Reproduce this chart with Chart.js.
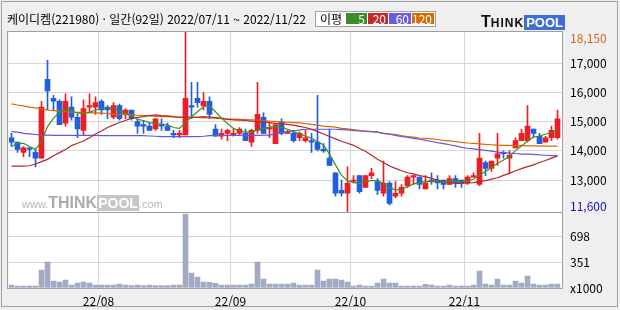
<!DOCTYPE html>
<html lang="ko">
<head>
<meta charset="utf-8">
<title>케이디켐(221980) 일간 차트</title>
<script src="https://cdn.jsdelivr.net/npm/chart.js@4.4.1/dist/chart.umd.min.js"></script>
<style>
  html, body { margin: 0; padding: 0; background: #efefef; }
  #wrap { position: relative; width: 620px; height: 310px; overflow: hidden;
          font-family: "Noto Sans CJK KR", "Noto Sans", sans-serif; }
  #chart { position: absolute; left: 0; top: 0; }
  #frame { position: absolute; left: 1px; top: 1px; width: 615px; height: 304px;
           border: 1px solid #a0a0a0; pointer-events: none; }
  #title { position: absolute; left: 7px; top: 11px; font-size: 12px; line-height: 16px;
           color: #000; white-space: nowrap; }
  #legend { position: absolute; left: 315px; top: 11px; width: 119px; height: 14px;
            border: 1px solid #a0a0a0; background: #fff; font-size: 12px; }
  #legend .lbl { position: absolute; left: 4px; top: -1px; line-height: 16px; }
  #legend .ma { position: absolute; top: 1px; height: 11px; line-height: 11px; color: #fff;
                text-align: right; padding-right: 2px; box-sizing: border-box; font-size: 12px; }
  #logo { position: absolute; left: 481px; top: 14px; height: 15px; white-space: nowrap;
          font-family: "Liberation Sans", Arial, sans-serif; font-weight: bold; line-height: 15px; }
  #logo .t { font-size: 16px; color: #111; }
  #logo .h { font-size: 12px; color: #111; letter-spacing: 1px; }
  #logo .p { font-size: 13px; color: #fff; background: #3d6fd6; padding: 0 2px; }
  #mark { position: absolute; left: 22px; top: 195px; white-space: nowrap; line-height: 16px;
          font-family: "Liberation Sans", Arial, sans-serif; color: #b8b8b8; }
  #mark .s { font-size: 11px; }
  #mark .b { font-size: 16px; font-weight: bold; color: #acacac; }
  #mark .p { font-size: 14px; font-weight: bold; color: #fff; background: #c6c6c6; padding: 0 1px; }
</style>
</head>
<body>
<div id="wrap">
  <canvas id="chart" width="620" height="310"></canvas>
  <div id="frame"></div>
  <div id="title"></div>
  <div id="legend">
    <span class="lbl">이평</span>
    <span class="ma" style="left:30px;width:21px;background:#3c8c28">5</span>
    <span class="ma" style="left:52px;width:20px;background:#c8282a">20</span>
    <span class="ma" style="left:73px;width:22px;background:#6a5cdc">60</span>
    <span class="ma" style="left:96px;width:22px;background:#d86a00">120</span>
  </div>
  <div id="logo"><span class="t">T</span><span class="h">HINK</span><span class="p">POOL</span></div>
  <div id="mark"><span class="s">www.</span><span class="b">THINK</span><span class="p">POOL</span><span class="s">.com</span></div>
</div>

<script>
// 케이디켐 daily candles, 2022/07/11 ~ 2022/11/22
const stockName = '케이디켐';
const stockCode = '221980';

const dates = [
  '2022/07/11', '2022/07/12', '2022/07/13', '2022/07/14', '2022/07/15', '2022/07/18', '2022/07/19', '2022/07/20',
  '2022/07/21', '2022/07/22', '2022/07/25', '2022/07/26', '2022/07/27', '2022/07/28', '2022/07/29',
  '2022/08/01', '2022/08/02', '2022/08/03', '2022/08/04', '2022/08/05', '2022/08/08', '2022/08/09', '2022/08/10',
  '2022/08/11', '2022/08/12', '2022/08/16', '2022/08/17', '2022/08/18', '2022/08/19', '2022/08/22', '2022/08/23',
  '2022/08/24', '2022/08/25', '2022/08/26', '2022/08/29', '2022/08/30', '2022/08/31',
  '2022/09/01', '2022/09/02', '2022/09/05', '2022/09/06', '2022/09/07', '2022/09/08', '2022/09/13', '2022/09/14',
  '2022/09/15', '2022/09/16', '2022/09/19', '2022/09/20', '2022/09/21', '2022/09/22', '2022/09/23', '2022/09/26',
  '2022/09/27', '2022/09/28', '2022/09/29', '2022/09/30',
  '2022/10/04', '2022/10/05', '2022/10/06', '2022/10/07', '2022/10/11', '2022/10/12', '2022/10/13', '2022/10/14',
  '2022/10/17', '2022/10/18', '2022/10/19', '2022/10/20', '2022/10/21', '2022/10/24', '2022/10/25', '2022/10/26',
  '2022/10/27', '2022/10/28', '2022/10/31',
  '2022/11/01', '2022/11/02', '2022/11/03', '2022/11/04', '2022/11/07', '2022/11/08', '2022/11/09', '2022/11/10',
  '2022/11/11', '2022/11/14', '2022/11/15', '2022/11/16', '2022/11/17', '2022/11/18', '2022/11/21', '2022/11/22'
];

const openP = [
  14450, 14300, 13950, 14100, 13950, 13750, 16450, 15800, 15700, 14950,
  15500, 15150, 14700, 15500, 15500, 15700, 15500, 15150, 15550, 15250,
  15400, 15000, 14900, 14850, 14750, 14900, 14850, 14600, 14550, 14550,
  15550, 15800, 15550, 15700, 14750, 14500, 14600, 14550, 14600, 14600,
  14300, 14700, 15150, 14750, 14250, 15000, 14600, 14600, 14450, 14350,
  14350, 14300, 14050, 13750, 13250, 12650, 12550, 12950, 13150, 12750,
  13150, 12950, 12550, 12900, 12450, 12550, 12800, 13100, 13100, 12700,
  13000, 13000, 13000, 12850, 13050, 13000, 12900, 13100, 12850, 13600,
  13400, 13750, 13950, 13750, 14100, 14350, 14350, 14750, 14500, 14300,
  14450, 14450
];
const highP = [
  14600, 14300, 14150, 14100, 14050, 15700, 17100, 15900, 15750, 15950,
  15850, 15250, 15750, 15950, 15850, 15750, 15550, 15650, 15600, 15450,
  15400, 15100, 15050, 14950, 15100, 15100, 14950, 14700, 14700, 18150,
  16350, 16350, 16000, 15850, 14900, 14750, 14750, 14750, 14800, 14750,
  14750, 16350, 15300, 14950, 14900, 15100, 14700, 14700, 14650, 14700,
  14600, 15900, 14250, 14750, 13250, 13000, 13450, 13150, 13150, 13150,
  13400, 13050, 13650, 12950, 12950, 12850, 13150, 13150, 13100, 13150,
  13250, 13150, 13000, 13150, 13150, 13000, 13150, 13250, 14600, 13650,
  13650, 14600, 14000, 14000, 14450, 14750, 15550, 14750, 14600, 14500,
  14850, 15400
];
const lowP = [
  14150, 13950, 13800, 13800, 13450, 13750, 15400, 15400, 14900, 14850,
  15050, 14450, 14550, 15300, 15250, 15250, 15100, 15100, 15050, 15100,
  15050, 14600, 14600, 14700, 14700, 14700, 14700, 14450, 14450, 14550,
  15100, 15500, 15400, 15100, 14500, 14400, 14350, 14500, 14550, 14350,
  14150, 14600, 14600, 14450, 14250, 14550, 14600, 14300, 14350, 14300,
  13950, 14000, 13950, 13500, 12450, 12450, 11600, 12900, 12550, 12750,
  13050, 12500, 12450, 12150, 12400, 12450, 12750, 12850, 12700, 12700,
  12850, 12700, 12700, 12850, 12750, 12750, 12850, 13100, 12800, 13150,
  13300, 13500, 13750, 13250, 14100, 14350, 14300, 14450, 14250, 14300,
  14350, 14400
];
const closeP = [
  14300, 14050, 14100, 14050, 13750, 15500, 16050, 15700, 14900, 15700,
  15150, 14750, 15450, 15550, 15650, 15400, 15400, 15550, 15100, 15400,
  15100, 14850, 14850, 14700, 15100, 14850, 14700, 14550, 14600, 15800,
  15500, 15650, 15700, 15250, 14500, 14600, 14700, 14600, 14750, 14350,
  14700, 15250, 14600, 14800, 14900, 14600, 14650, 14350, 14600, 14450,
  14300, 14050, 14000, 13500, 12550, 12550, 12900, 13000, 12600, 13150,
  13250, 12650, 12900, 12200, 12550, 12750, 13100, 13150, 12850, 12900,
  12950, 12900, 12850, 13050, 12900, 12900, 13100, 13150, 13750, 13400,
  13650, 13900, 13900, 13850, 14350, 14600, 14850, 14600, 14250, 14450,
  14700, 15100
];
// volume, x1000 shares
const volume = [
  41, 27, 27, 27, 27, 246, 355, 96, 82, 109,
  41, 68, 82, 68, 41, 41, 41, 41, 55, 41,
  32, 41, 32, 41, 32, 32, 32, 41, 41, 1011,
  205, 150, 82, 78, 64, 41, 41, 41, 41, 41,
  55, 355, 123, 55, 55, 55, 55, 68, 41, 41,
  41, 246, 96, 123, 123, 109, 82, 27, 41, 27,
  27, 68, 123, 68, 68, 27, 27, 27, 27, 50,
  41, 27, 27, 41, 27, 27, 27, 41, 232, 55,
  41, 123, 41, 41, 96, 68, 164, 55, 41, 41,
  55, 55
];

// moving averages as drawn (5 / 20 / 60 / 120 days)
const ma5 = [
  14150, 14260, 14260, 14150, 14050, 14320, 14830, 15120, 15310, 15400,
  15370, 15290, 15290, 15320, 15400, 15460, 15480, 15450, 15380, 15290,
  15200, 15080, 15040, 14970, 14940, 14920, 14890, 14800, 14770, 14970,
  15170, 15340, 15520, 15540, 15340, 15120, 14940, 14770, 14680, 14640,
  14640, 14720, 14770, 14810, 14830, 14810, 14740, 14660, 14580, 14510,
  14430, 14320, 14200, 13890, 13520, 13170, 12980, 12910, 12890, 12950,
  12980, 12980, 12870, 12750, 12660, 12680, 12770, 12870, 12910, 12950,
  12950, 12950, 12930, 12950, 12950, 12950, 12970, 13030, 13170, 13290,
  13430, 13570, 13690, 13800, 14010, 14170, 14340, 14470, 14510, 14570,
  14630, 14720
];
const ma20 = [
  13480, 13480, 13480, 13490, 13550, 13630, 13710, 13830, 13940, 14050,
  14180, 14260, 14340, 14450, 14580, 14680, 14800, 14890, 14970, 15040,
  15120, 15150, 15170, 15210, 15230, 15210, 15200, 15170, 15150, 15150,
  15150, 15150, 15170, 15160, 15140, 15120, 15080, 15060, 15050, 15040,
  15020, 15010, 14990, 14970, 14940, 14930, 14910, 14880, 14840, 14800,
  14740, 14660, 14580, 14490, 14410, 14330, 14260, 14190, 14080, 13990,
  13850, 13710, 13600, 13480, 13400, 13320, 13250, 13210, 13150, 13120,
  13060, 13000, 12950, 12910, 12890, 12890, 12900, 12910, 12950, 12980,
  13030, 13080, 13160, 13230, 13320, 13390, 13460, 13520, 13600, 13670,
  13750, 13830
];
const ma60 = [
  14660, 14640, 14600, 14580, 14560, 14540, 14540, 14530, 14530, 14530,
  14530, 14530, 14530, 14530, 14530, 14520, 14520, 14520, 14520, 14520,
  14520, 14520, 14520, 14510, 14500, 14490, 14490, 14490, 14490, 14490,
  14490, 14490, 14500, 14520, 14530, 14530, 14530, 14530, 14530, 14530,
  14530, 14530, 14540, 14540, 14580, 14630, 14660, 14680, 14720, 14740,
  14740, 14740, 14740, 14740, 14740, 14730, 14720, 14690, 14680, 14670,
  14660, 14640, 14600, 14570, 14530, 14490, 14470, 14430, 14400, 14360,
  14320, 14280, 14250, 14210, 14170, 14120, 14090, 14070, 14040, 14020,
  13990, 13960, 13940, 13920, 13910, 13890, 13890, 13880, 13860, 13850,
  13840, 13830
];
const ma120 = [
  15610, 15570, 15540, 15500, 15470, 15440, 15400, 15380, 15360, 15340,
  15330, 15320, 15320, 15310, 15300, 15290, 15280, 15260, 15250, 15240,
  15230, 15220, 15210, 15200, 15180, 15170, 15170, 15160, 15160, 15150,
  15150, 15150, 15130, 15130, 15120, 15100, 15090, 15090, 15080, 15070,
  15060, 15050, 15040, 15020, 15010, 14990, 14980, 14970, 14960, 14930,
  14910, 14880, 14850, 14830, 14810, 14770, 14750, 14730, 14700, 14680,
  14660, 14640, 14600, 14580, 14560, 14520, 14490, 14470, 14440, 14430,
  14410, 14390, 14360, 14340, 14320, 14290, 14270, 14260, 14240, 14220,
  14210, 14200, 14190, 14190, 14180, 14180, 14170, 14170, 14170, 14160,
  14160, 14160
];

const priceTicks = [13000, 14000, 15000, 16000, 17000];
const volumeTicks = [0, 351, 698];
const monthLabels = ['22/08', '22/09', '22/10', '22/11'];

const UP = '#ee1c23';
const DOWN = '#1f5fe0';
const FONT = { family: '"Noto Sans CJK KR", "Noto Sans", sans-serif', size: 12 };

document.getElementById('title').textContent =
  `${stockName}(${stockCode}) · 일간(${dates.length}일) ${dates[0]} ~ ${dates[dates.length - 1]}`;

// first trading day of each month -> vertical grid line before it
const monthStarts = [];
dates.forEach((d, i) => {
  if (i > 0 && d.slice(5, 7) !== dates[i - 1].slice(5, 7)) monthStarts.push(i);
});

const periodHigh = Math.max(...highP);
const periodLow = Math.min(...lowP);
const idx = dates.map((d, i) => i);
const candleColor = i => (closeP[i] >= openP[i] ? UP : DOWN);
const pts = arr => arr.map((v, i) => ({ x: i, y: v }));

function maLine(label, data, color) {
  return {
    type: 'line', label, data: pts(data), yAxisID: 'y', order: 0,
    borderColor: color, borderWidth: 1.2, pointRadius: 0, tension: 0, fill: false
  };
}

// white plot area
const plotBackground = {
  id: 'plotBackground',
  beforeDraw(chart) {
    const { ctx, chartArea: a } = chart;
    ctx.save();
    ctx.fillStyle = '#fff';
    ctx.fillRect(a.left, a.top, a.right - a.left, a.bottom - a.top);
    ctx.restore();
  }
};

// keep price marks inside the upper panel
const pricePanelClip = {
  id: 'pricePanelClip',
  beforeDatasetDraw(chart, args) {
    if (args.meta.yAxisID !== 'y') return;
    const { ctx, chartArea: a, scales: { y } } = chart;
    ctx.save();
    ctx.beginPath();
    ctx.rect(a.left, y.top, a.right - a.left, y.bottom - y.top);
    ctx.clip();
  },
  afterDatasetDraw(chart, args) {
    if (args.meta.yAxisID === 'y') chart.ctx.restore();
  }
};

// panel borders
const panelFrame = {
  id: 'panelFrame',
  afterDraw(chart) {
    const { ctx, chartArea: a, scales: { y } } = chart;
    const l = Math.floor(a.left) - 0.5;
    const r = Math.round(a.right) + 0.5;
    const t = Math.round(a.top) - 0.5;
    const b = Math.round(a.bottom) + 0.5;
    const mid = Math.floor(y.bottom) + 0.5;
    ctx.save();
    ctx.strokeStyle = '#a0a0a0';
    ctx.lineWidth = 1;
    ctx.strokeRect(l, t, r - l, b - t);
    ctx.beginPath();
    ctx.moveTo(l, mid);
    ctx.lineTo(r, mid);
    ctx.stroke();
    ctx.restore();
  }
};

new Chart(document.getElementById('chart'), {
  data: {
    datasets: [
      maLine('5', ma5, '#3a921e'),
      maLine('20', ma20, '#b8262a'),
      maLine('60', ma60, '#6658dc'),
      maLine('120', ma120, '#d86a00'),
      {
        type: 'bar', label: 'body', yAxisID: 'y', order: 2, grouped: false,
        data: idx.map(i => ({ x: i, y: [openP[i], closeP[i]] })),
        backgroundColor: c => candleColor(c.dataIndex),
        barThickness: 5, minBarLength: 1, borderWidth: 0
      },
      {
        type: 'bar', label: 'wick', yAxisID: 'y', order: 3, grouped: false,
        data: idx.map(i => ({ x: i, y: [lowP[i], highP[i]] })),
        backgroundColor: c => candleColor(c.dataIndex),
        barThickness: 1, borderWidth: 0
      },
      {
        type: 'bar', label: 'volume', yAxisID: 'v', order: 4, grouped: false,
        data: idx.map(i => ({ x: i, y: volume[i] })),
        backgroundColor: '#a3abc4', barThickness: 5, borderWidth: 0
      }
    ]
  },
  options: {
    responsive: false,
    animation: false,
    layout: { padding: { left: 8.5, top: 32, right: 0, bottom: 0 } },
    plugins: { legend: { display: false }, tooltip: { enabled: false } },
    scales: {
      x: {
        type: 'linear', min: -0.5, max: 91.75, offset: false,
        afterBuildTicks: s => { s.ticks = monthStarts.map(i => ({ value: i - 0.5 })); },
        afterFit: s => { s.height = 22; },
        ticks: {
          callback: (v, i) => monthLabels[i], color: '#000', font: FONT,
          padding: 6, maxRotation: 0, autoSkip: false
        },
        grid: { color: '#d6d6d6', drawTicks: false, offset: false },
        border: { display: false }
      },
      y: {
        type: 'linear', position: 'right', stack: 'panels', stackWeight: 180.5,
        min: 11890, max: 18070,
        afterBuildTicks: s => {
          const unit = (s.max - s.min) / 180.5;
          s.ticks = [{ value: s.min + 6 * unit }]
            .concat(priceTicks.map(v => ({ value: v })))
            .concat([{ value: s.max - 6.3 * unit }]);
        },
        afterFit: s => { s.width = 58; },
        ticks: {
          font: FONT, padding: 8, autoSkip: false,
          callback: (v, i, ticks) => {
            if (i === 0) return periodLow.toLocaleString('en-US');
            if (i === ticks.length - 1) return periodHigh.toLocaleString('en-US');
            return v.toLocaleString('en-US');
          },
          color: c => (c.index === 0 ? '#1414c0' : c.index === priceTicks.length + 1 ? '#d2691e' : '#000')
        },
        grid: {
          drawTicks: false,
          color: c => (c.index === 0 || c.index === priceTicks.length + 1 ? 'rgba(0,0,0,0)' : '#d6d6d6')
        },
        border: { display: false }
      },
      v: {
        type: 'linear', position: 'right', stack: 'panels', stackWeight: 75.5,
        min: 0, max: 1031,
        afterBuildTicks: s => { s.ticks = volumeTicks.map(v => ({ value: v })); },
        afterFit: s => { s.width = 58; },
        ticks: {
          font: FONT, padding: 8, color: '#000', autoSkip: false,
          callback: v => (v === 0 ? 'x1000' : String(v))
        },
        grid: { drawTicks: false, color: c => (c.tick.value === 0 ? 'rgba(0,0,0,0)' : '#d6d6d6') },
        border: { display: false }
      }
    }
  },
  plugins: [plotBackground, pricePanelClip, panelFrame]
});
</script>
</body>
</html>
